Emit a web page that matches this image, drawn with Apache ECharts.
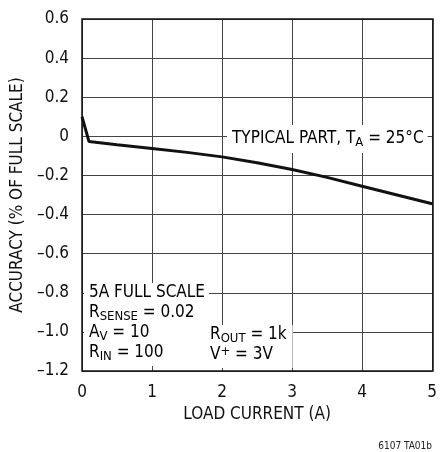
<!DOCTYPE html>
<html><head><meta charset="utf-8">
<script src="https://cdn.jsdelivr.net/npm/echarts@6/dist/echarts.min.js"></script>
<style>html,body{margin:0;padding:0;background:#fff}#c{width:440px;height:452px}</style>
</head><body><div id="c"></div>
<script>
var loadCurrent = [0, 0.1, 0.5, 1, 1.5, 2, 2.5, 3, 3.5, 4, 4.5, 5];
var accuracy = [0.1, -0.027, -0.043, -0.062, -0.082, -0.105, -0.135, -0.17, -0.21, -0.255, -0.3, -0.345];
var xTicks = [0, 1, 2, 3, 4, 5];
var yTicks = [0.6, 0.4, 0.2, 0, -0.2, -0.4, -0.6, -0.8, -1.0, -1.2];

var FONT = '"Liberation Sans Narrow", "DejaVu Sans Condensed", "Liberation Sans", sans-serif';
var chart = echarts.init(document.getElementById('c'));
function fmtY(v){ var s = (Math.abs(v) < 1e-9) ? '0' : Math.abs(v).toFixed(1); return v < -1e-9 ? '\u2013' + s : s; }
var rich = {
  n: {fontFamily: FONT, fontSize: 17, color: '#111', lineHeight: 20, verticalAlign: 'middle'},
  s: {fontFamily: FONT, fontSize: 13, color: '#111', lineHeight: 20, verticalAlign: 'bottom', padding: [6,0,0,0]},
  p: {fontFamily: FONT, fontSize: 13, color: '#111', lineHeight: 20, verticalAlign: 'top', padding: [0,0,8,0]}
};
chart.setOption({
  animation: false,
  grid: {left: 82, top: 19, right: 7, bottom: 81, containLabel: false},
  xAxis: {
    type: 'value', min: 0, max: 5, interval: 1,
    name: 'LOAD CURRENT (A)', nameLocation: 'middle', nameGap: 31,
    nameTextStyle: {fontFamily: FONT, fontSize: 17, color: '#111'},
    axisLine: {show: false}, axisTick: {show: false},
    axisLabel: {fontFamily: FONT, fontSize: 17, color: '#111', margin: 13},
    splitLine: {show: true, lineStyle: {color: '#444', width: 1}}
  },
  yAxis: {
    type: 'value', min: -1.2, max: 0.6, interval: 0.2,
    name: 'ACCURACY (% OF FULL SCALE)', nameLocation: 'middle', nameGap: 53,
    nameTextStyle: {fontFamily: FONT, fontSize: 17, color: '#111'},
    axisLine: {show: false}, axisTick: {show: false},
    axisLabel: {fontFamily: FONT, fontSize: 17, color: '#111', margin: 13, formatter: fmtY},
    splitLine: {show: true, lineStyle: {color: '#444', width: 1}}
  },
  series: [{
    type: 'line', data: loadCurrent.map(function(x,i){return [x, accuracy[i]];}),
    symbol: 'none', lineStyle: {color: '#111', width: 3}, z: 3
  }],
  graphic: [
    {type: 'rect', z: 10, shape: {x: 82, y: 19, width: 351, height: 352}, style: {fill: 'none', stroke: '#111', lineWidth: 1.5}},
    {type: 'text', z: 5, left: 227, top: 125, style: {
      text: '{n|TYPICAL PART, T}{s|A}{n| = 25\u00B0C}', rich: rich,
      backgroundColor: '#fff', padding: [4, 4, 4, 5]}},
    {type: 'text', z: 5, left: 84, top: 283, style: {
      text: '{n|5A FULL SCALE}\n{n|R}{s|SENSE}{n| = 0.02}\n{n|A}{s|V}{n| = 10}\n{n|R}{s|IN}{n| = 100}', rich: rich,
      backgroundColor: '#fff', padding: [0, 4, 3, 5]}},
    {type: 'text', z: 5, left: 196, top: 325, style: {
      text: '{n|R}{s|OUT}{n| = 1k}\n{n|V}{p|+}{n| = 3V}', rich: rich,
      backgroundColor: '#fff', padding: [0, 6, 3, 14]}},
    {type: 'text', right: 8, top: 441, style: {text: '6107 TA01b', fontFamily: FONT, fontSize: 10, fill: '#222'}}
  ]
});
</script></body></html>
